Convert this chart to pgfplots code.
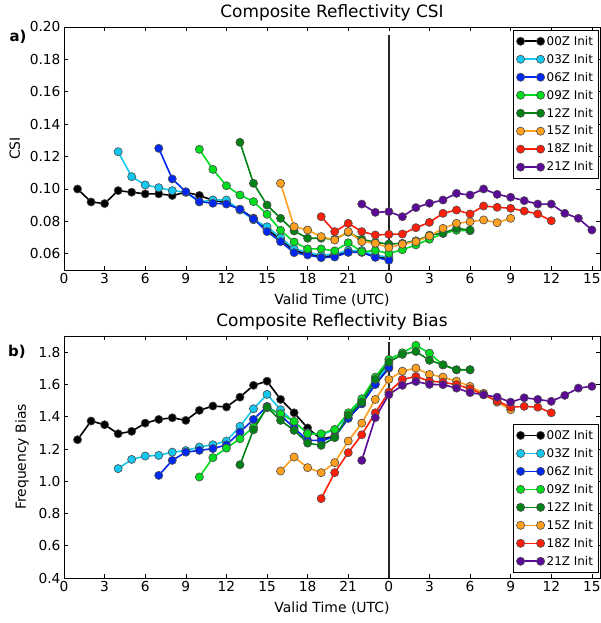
\documentclass[border=0pt]{standalone}
\usepackage{fontspec}
\setmainfont{DejaVu Sans}
\usepackage{pgfplots}
\pgfplotsset{compat=1.18}
\definecolor{c00}{RGB}{0,0,0}
\definecolor{c03}{RGB}{20,200,240}
\definecolor{c06}{RGB}{0,40,240}
\definecolor{c09}{RGB}{0,220,30}
\definecolor{c12}{RGB}{0,130,20}
\definecolor{c15}{RGB}{255,160,30}
\definecolor{c18}{RGB}{255,30,10}
\definecolor{c21}{RGB}{90,10,150}
\pgfplotsset{
  panel/.style={
    scale only axis, width=536bp, height=243bp,
    xmin=0, xmax=39.6,
    xtick={0,3,...,39}, xticklabels={0,3,6,9,12,15,18,21,0,3,6,9,12,15},
    tick align=inside, major tick length=4bp,
    tick style={black, line width=0.6bp},
    axis line style={line width=0.8bp},
    ticklabel style={font=\fontsize{13.8}{16}\selectfont},
    /pgf/number format/assume math mode=true,
    label style={font=\fontsize{14}{16}\selectfont},
    xlabel style={yshift=-3bp},
    ylabel style={yshift=3bp},
    title style={font=\fontsize{17}{19}\selectfont, yshift=-4bp},
    xlabel={Valid Time (UTC)},
    legend style={draw=black, line width=0.8bp, font=\fontsize{12}{14}\selectfont,
      legend cell align=left, inner xsep=3bp, inner ysep=2bp,
      nodes={inner ysep=3.7bp}},
    legend image code/.code={\draw[#1] plot coordinates {(0bp,0bp) (20bp,0bp)};},
  },
  ser/.style={line width=1.6bp, mark=*, mark size=4.1bp, color=#1,
    mark options={solid, fill=#1, draw=black!70, line width=0.6bp}},
}
\begin{document}
\begin{tikzpicture}
\useasboundingbox (0,0) rectangle (601bp,623bp);
\begin{axis}[panel, at={(64bp,353bp)}, anchor=south west,
  ymin=0.05, ymax=0.20, ytick={0.06,0.08,...,0.201},
  yticklabel style={/pgf/number format/fixed, /pgf/number format/fixed zerofill, /pgf/number format/precision=2},
  ylabel={CSI}, title={Composite Reflectivity CSI},
  legend style={at={(0.997,0.988)}, anchor=north east}]
\addplot[forget plot, black!85, line width=1.5bp, mark=none] coordinates {(24,0.05) (24,0.195)};
\addplot[ser=c00] coordinates {(1,0.100) (2,0.092) (3,0.091) (4,0.099) (5,0.098) (6,0.097) (7,0.097) (8,0.096) (9,0.098) (10,0.096) (11,0.093) (12,0.0915) (13,0.0875) (14,0.082) (15,0.075) (16,0.069) (17,0.062) (18,0.060) (19,0.058) (20,0.059) (21,0.061) (22,0.061) (23,0.058) (24,0.057)};
\addplot[ser=c03] coordinates {(4,0.123) (5,0.1076) (6,0.1025) (7,0.1008) (8,0.099) (9,0.098) (10,0.092) (11,0.0932) (12,0.0932) (13,0.087) (14,0.081) (15,0.0767) (16,0.070) (17,0.063) (18,0.061) (19,0.059) (20,0.060) (21,0.062) (22,0.062) (23,0.059) (24,0.058)};
\addplot[ser=c06] coordinates {(7,0.1251) (8,0.1062) (9,0.0983) (10,0.0922) (11,0.0912) (12,0.0907) (13,0.0875) (14,0.0815) (15,0.0737) (16,0.0675) (17,0.0607) (18,0.0593) (19,0.0576) (20,0.058) (21,0.0609) (22,0.0609) (23,0.0578) (24,0.056)};
\addplot[ser=c09] coordinates {(10,0.1245) (11,0.1121) (12,0.102) (13,0.0963) (14,0.0922) (15,0.0844) (16,0.0745) (17,0.0673) (18,0.063) (19,0.063) (20,0.0618) (21,0.0668) (22,0.0613) (23,0.062) (24,0.0603) (25,0.0625) (26,0.0655) (27,0.069) (28,0.0725) (29,0.0745) (30,0.0742)};
\addplot[ser=c12] coordinates {(13,0.1288) (14,0.1035) (15,0.0901) (16,0.0819) (17,0.0741) (18,0.0696) (19,0.0696) (20,0.069) (21,0.0733) (22,0.069) (23,0.0671) (24,0.066) (25,0.0665) (26,0.068) (27,0.0715) (28,0.0728) (29,0.0757) (30,0.0747)};
\addplot[ser=c15] coordinates {(16,0.1035) (17,0.0767) (18,0.0747) (19,0.0706) (20,0.0685) (21,0.0737) (22,0.0675) (23,0.0665) (24,0.0638) (25,0.0659) (26,0.0675) (27,0.071) (28,0.0757) (29,0.0788) (30,0.0798) (31,0.0809) (32,0.0792) (33,0.0819)};
\addplot[ser=c18] coordinates {(19,0.0829) (20,0.0737) (21,0.0788) (22,0.0737) (23,0.0716) (24,0.072) (25,0.0722) (26,0.0761) (27,0.0794) (28,0.085) (29,0.087) (30,0.0846) (31,0.0895) (32,0.0887) (33,0.0881) (34,0.0864) (35,0.0846) (36,0.0804)};
\addplot[ser=c21] coordinates {(22,0.0907) (23,0.0856) (24,0.086) (25,0.0829) (26,0.0885) (27,0.0912) (28,0.0932) (29,0.0973) (30,0.0963) (31,0.100) (32,0.0967) (33,0.0949) (34,0.0928) (35,0.0907) (36,0.0907) (37,0.085) (38,0.0819) (39,0.0747)};
\legend{00Z Init,03Z Init,06Z Init,09Z Init,12Z Init,15Z Init,18Z Init,21Z Init}
\end{axis}
\begin{axis}[panel, at={(64bp,45bp)}, anchor=south west, height=242bp,
  ymin=0.4, ymax=1.9, ytick={0.4,0.6,...,1.81},
  yticklabel style={/pgf/number format/fixed, /pgf/number format/fixed zerofill, /pgf/number format/precision=1},
  ylabel={Frequency Bias}, title={Composite Reflectivity Bias},
  legend style={at={(0.997,0.022)}, anchor=south east}]
\addplot[forget plot, black!85, line width=1.5bp, mark=none] coordinates {(24,0.4) (24,1.865)};
\addplot[ser=c00] coordinates {(1,1.257) (2,1.373) (3,1.35) (4,1.294) (5,1.309) (6,1.36) (7,1.383) (8,1.393) (9,1.377) (10,1.439) (11,1.466) (12,1.46) (13,1.521) (14,1.594) (15,1.62) (16,1.507) (17,1.424) (18,1.33) (19,1.26) (20,1.28) (21,1.39) (22,1.48) (23,1.60) (24,1.70)};
\addplot[ser=c03] coordinates {(4,1.078) (5,1.135) (6,1.156) (7,1.16) (8,1.18) (9,1.19) (10,1.212) (11,1.226) (12,1.249) (13,1.34) (14,1.449) (15,1.538) (16,1.443) (17,1.366) (18,1.30) (19,1.288) (20,1.319) (21,1.41) (22,1.50) (23,1.62) (24,1.72)};
\addplot[ser=c06] coordinates {(7,1.036) (8,1.129) (9,1.18) (10,1.191) (11,1.202) (12,1.225) (13,1.304) (14,1.383) (15,1.464) (16,1.41) (17,1.33) (18,1.253) (19,1.253) (20,1.273) (21,1.39) (22,1.48) (23,1.60) (24,1.705)};
\addplot[ser=c09] coordinates {(10,1.026) (11,1.146) (12,1.205) (13,1.263) (14,1.335) (15,1.455) (16,1.418) (17,1.371) (18,1.294) (19,1.294) (20,1.321) (21,1.424) (22,1.511) (23,1.645) (24,1.755) (25,1.796) (26,1.842) (27,1.794) (28,1.72) (29,1.69) (30,1.69)};
\addplot[ser=c12] coordinates {(13,1.102) (14,1.319) (15,1.459) (16,1.377) (17,1.315) (18,1.236) (19,1.222) (20,1.27) (21,1.408) (22,1.49) (23,1.631) (24,1.738) (25,1.786) (26,1.804) (27,1.749) (28,1.722) (29,1.691) (30,1.691)};
\addplot[ser=c15] coordinates {(16,1.063) (17,1.15) (18,1.084) (19,1.053) (20,1.115) (21,1.249) (22,1.36) (23,1.507) (24,1.631) (25,1.682) (26,1.701) (27,1.662) (28,1.645) (29,1.62) (30,1.588) (31,1.545) (32,1.49) (33,1.443)};
\addplot[ser=c18] coordinates {(19,0.892) (20,1.053) (21,1.177) (22,1.288) (23,1.424) (24,1.552) (25,1.631) (26,1.649) (27,1.62) (28,1.614) (29,1.598) (30,1.573) (31,1.536) (32,1.497) (33,1.459) (34,1.464) (35,1.459) (36,1.424)};
\addplot[ser=c21] coordinates {(22,1.129) (23,1.394) (24,1.536) (25,1.594) (26,1.618) (27,1.60) (28,1.598) (29,1.577) (30,1.549) (31,1.536) (32,1.521) (33,1.49) (34,1.517) (35,1.507) (36,1.495) (37,1.532) (38,1.577) (39,1.588)};
\legend{00Z Init,03Z Init,06Z Init,09Z Init,12Z Init,15Z Init,18Z Init,21Z Init}
\end{axis}
\node[font=\bfseries\fontsize{15}{17}\selectfont] at (18bp,586bp) {a)};
\node[font=\bfseries\fontsize{15}{17}\selectfont] at (17bp,271bp) {b)};
\end{tikzpicture}
\end{document}
